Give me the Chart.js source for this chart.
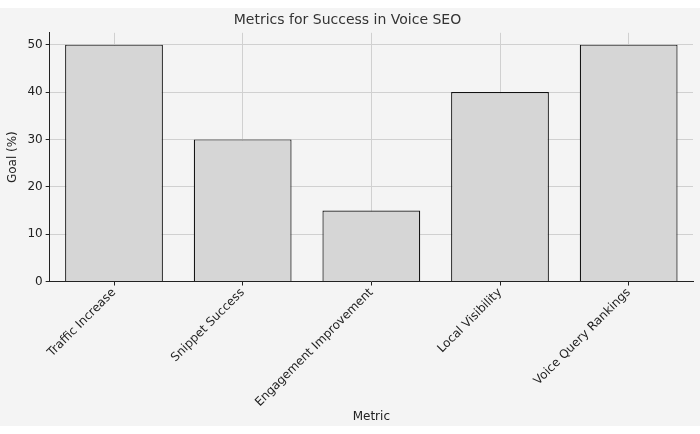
<!DOCTYPE html>
<html><head><meta charset="utf-8">
<script src="https://cdn.jsdelivr.net/npm/chart.js@4"></script>
<style>
html,body{margin:0;padding:0;background:#fff;}
#wrap{position:absolute;left:0;top:8px;width:700px;height:418px;background:#f4f4f4;}
</style></head><body>
<div id="wrap"><canvas id="c" width="700" height="418"></canvas></div>
<script>
const categories = ["Traffic Increase","Snippet Success","Engagement Improvement","Local Visibility","Voice Query Rankings"];
const goals = [50,30,15,40,50];
const yTicks = [0,10,20,30,40,50];
new Chart(document.getElementById('c'),{
  type:'bar',
  data:{labels:categories,datasets:[{data:goals,backgroundColor:'#d6d6d6',borderColor:'#111',borderWidth:1.2,barPercentage:0.76,categoryPercentage:1}]},
  options:{
    responsive:false,animation:false,
    layout:{padding:{left:2,right:7,top:0,bottom:2}},
    plugins:{legend:{display:false},tooltip:{enabled:false},
      title:{display:true,text:'Metrics for Success in Voice SEO',color:'#333',font:{family:'DejaVu Sans',size:14,weight:'normal'},padding:{top:4,bottom:4}}},
    scales:{
      x:{grid:{offset:false,color:'#d0d0d0',borderDash:[2,2],drawTicks:true,tickLength:4,tickColor:'#222'},
        border:{color:'#222',width:1},
        ticks:{color:'#222',padding:0,maxRotation:45,minRotation:45,font:{family:'DejaVu Sans',size:12}},
        title:{display:true,text:'Metric',color:'#222',padding:{top:0,bottom:0},font:{family:'DejaVu Sans',size:12}}},
      y:{min:0,max:52.5,afterBuildTicks:a=>{a.ticks=yTicks.map(v=>({value:v}));},
        grid:{color:'#d0d0d0',borderDash:[2,2],tickLength:4,tickColor:'#222'},
        border:{color:'#222',width:1},
        ticks:{color:'#222',font:{family:'DejaVu Sans',size:12}},
        title:{display:true,text:'Goal (%)',color:'#222',font:{family:'DejaVu Sans',size:12}}}
    }
  }
});
</script></body></html>
